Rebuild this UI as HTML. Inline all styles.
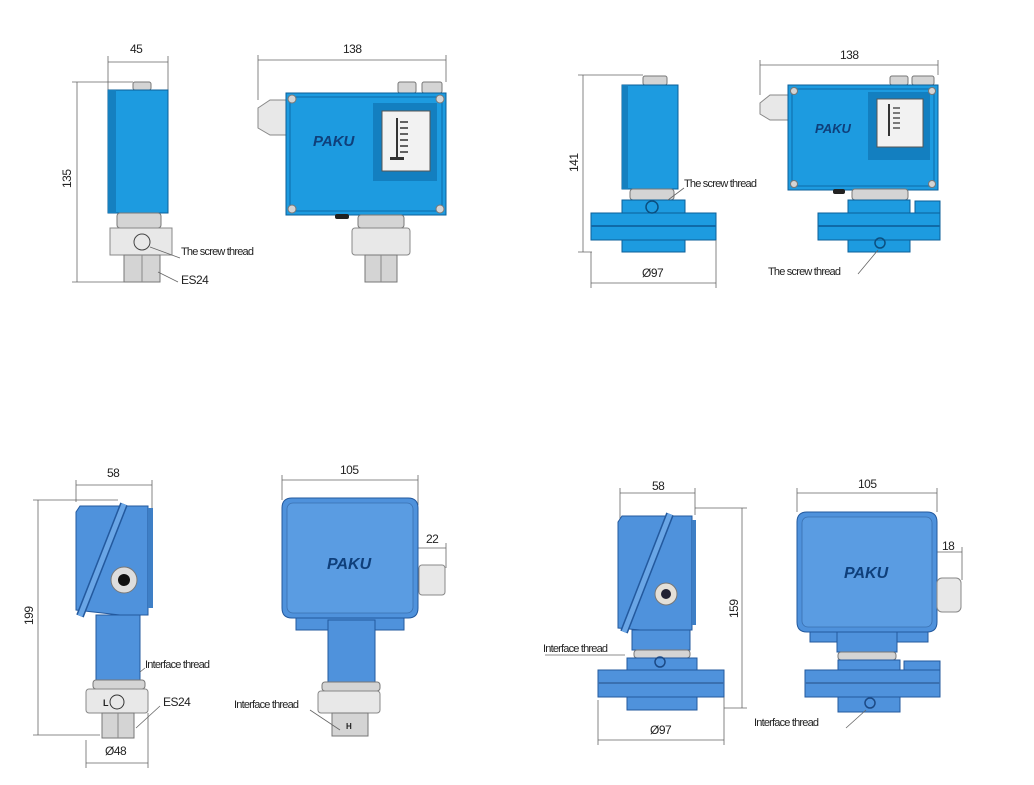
<!DOCTYPE html>
<html><head><meta charset="utf-8"><style>
html,body{margin:0;padding:0;background:#fff;width:1034px;height:785px;overflow:hidden}
svg{display:block}
text{font-family:"Liberation Sans",sans-serif;fill:#222}
.lbl{font-size:11px;letter-spacing:-0.8px}
.dim{font-size:12px;letter-spacing:-0.5px}
.d{stroke:#666;stroke-width:0.8;fill:none}
.b{fill:#1d9be0;stroke:#0b5f99;stroke-width:1}
.b2{fill:#4f92dc;stroke:#23599e;stroke-width:1}
.g{fill:#d4d4d4;stroke:#777;stroke-width:1}
.g2{fill:#e8e8e8;stroke:#888;stroke-width:1}
.pk{font-size:15px;font-weight:bold;font-style:italic;fill:#0f3f7a}
</style></head><body>
<svg width="1034" height="785" viewBox="0 0 1034 785">
<!-- ===== TOP LEFT SIDE ===== -->
<path class="d" d="M108 62H168M108 56V90M168 56V90"/>
<text class="dim" x="130" y="53">45</text>
<path class="d" d="M77 82V282M72 82H133M72 282H125"/>
<text class="dim" x="0" y="0" transform="translate(71,188) rotate(-90)">135</text>
<rect class="g" x="133" y="82" width="18" height="8" rx="2"/>
<rect class="b" x="108" y="90" width="60" height="123"/>
<rect x="108" y="90" width="8" height="123" fill="#1580c0"/>
<rect class="g" x="117" y="213" width="44" height="15" rx="3"/>
<rect class="g2" x="110" y="228" width="62" height="27"/>
<circle cx="142" cy="242" r="8" fill="none" stroke="#444"/>
<rect class="g" x="124" y="255" width="36" height="27"/>
<path d="M142 255V282" stroke="#888"/>
<path class="d" d="M150 247L180 258M158 272L178 282"/>
<text class="lbl" x="181" y="255">The screw thread</text>
<text class="dim" x="181" y="284">ES24</text>
<!-- ===== TOP FRONT ===== -->
<path class="d" d="M258 60H446M258 55V100M446 55V82"/>
<text class="dim" x="343" y="53">138</text>
<rect class="g" x="398" y="82" width="18" height="11" rx="2"/>
<rect class="g" x="422" y="82" width="20" height="11" rx="2"/>
<path class="g2" d="M258 108L270 100H286V135H270L258 128Z"/>
<rect class="b" x="286" y="93" width="160" height="122"/>
<rect x="290" y="97" width="152" height="114" fill="none" stroke="#0b5f99" stroke-width="0.8"/>
<rect x="373" y="103" width="64" height="78" fill="#137fc0"/>
<rect x="382" y="111" width="48" height="60" fill="#f2f2f2" stroke="#555"/>
<path d="M397 118V160" stroke="#333" stroke-width="2"/>
<path d="M400 122h8M400 128h8M400 134h8M400 140h8M400 146h8M400 152h8" stroke="#333" stroke-width="1.5"/>
<rect x="390" y="157" width="14" height="3" fill="#333"/>
<circle cx="292" cy="99" r="4" class="g"/><circle cx="440" cy="99" r="4" class="g"/>
<circle cx="292" cy="209" r="4" class="g"/><circle cx="440" cy="209" r="4" class="g"/>
<text class="pk" x="313" y="146">PAKU</text>
<rect x="335" y="214" width="14" height="5" fill="#222" rx="2"/>
<rect class="g" x="358" y="215" width="46" height="13" rx="3"/>
<rect class="g2" x="352" y="228" width="58" height="27" rx="3"/>
<rect class="g" x="365" y="255" width="32" height="27"/>
<path d="M381 255V282" stroke="#888"/>
<!-- ===== TOP RIGHT SIDE ===== -->
<path class="d" d="M583 75V252M578 75H643M578 252H592"/>
<text class="dim" x="0" y="0" transform="translate(578,172) rotate(-90)">141</text>
<rect class="g" x="643" y="76" width="24" height="9" rx="2"/>
<rect class="b" x="622" y="85" width="56" height="104"/>
<rect x="622" y="85" width="6" height="104" fill="#1580c0"/>
<rect class="g" x="630" y="189" width="44" height="11" rx="3"/>
<rect class="b" x="622" y="200" width="63" height="52"/>
<rect class="b" x="591" y="213" width="125" height="27"/>
<rect x="591" y="225" width="125" height="2" fill="#0f6aa8"/>
<circle cx="652" cy="207" r="6" fill="none" stroke="#0b4f80" stroke-width="1.5"/>
<path class="d" d="M591 252V288M716 240V288M591 283H716"/>
<text class="dim" x="642" y="277">Ø97</text>
<path class="d" d="M668 200L684 188"/>
<text class="lbl" x="684" y="187">The screw thread</text>
<!-- ===== TOP RIGHT FRONT ===== -->
<path class="d" d="M760 65H938M760 60V95M938 60V75"/>
<text class="dim" x="840" y="59">138</text>
<rect class="g" x="890" y="76" width="18" height="9" rx="2"/>
<rect class="g" x="912" y="76" width="22" height="9" rx="2"/>
<path class="g2" d="M760 103L770 95H788V120H770L760 114Z"/>
<rect class="b" x="788" y="85" width="150" height="105"/>
<rect x="792" y="89" width="142" height="97" fill="none" stroke="#0b5f99" stroke-width="0.8"/>
<rect x="868" y="92" width="62" height="68" fill="#137fc0"/>
<rect x="877" y="99" width="46" height="48" fill="#f2f2f2" stroke="#555"/>
<path d="M889 104V136" stroke="#333" stroke-width="2"/>
<path d="M893 108h7M893 113h7M893 118h7M893 123h7M893 128h7" stroke="#333" stroke-width="1.3"/>
<circle cx="794" cy="91" r="3.5" class="g"/><circle cx="932" cy="91" r="3.5" class="g"/>
<circle cx="794" cy="184" r="3.5" class="g"/><circle cx="932" cy="184" r="3.5" class="g"/>
<text class="pk" x="815" y="133" style="font-size:13px">PAKU</text>
<rect x="833" y="189" width="12" height="5" fill="#222" rx="2"/>
<rect class="g" x="852" y="189" width="56" height="11" rx="3"/>
<rect class="b" x="848" y="200" width="62" height="52"/>
<rect class="b" x="915" y="201" width="25" height="14"/>
<rect class="b" x="818" y="213" width="122" height="27"/>
<rect x="818" y="225" width="122" height="2" fill="#0f6aa8"/>
<circle cx="880" cy="243" r="5" fill="none" stroke="#0b4f80" stroke-width="1.5"/>
<path class="d" d="M878 250L858 274"/>
<text class="lbl" x="768" y="275">The screw thread</text>
<!-- ===== BOTTOM LEFT SIDE ===== -->
<path class="d" d="M76 485H152M76 480V502M152 480V510"/>
<text class="dim" x="107" y="477">58</text>
<path class="d" d="M38 500V735M33 500H118M33 735H100"/>
<text class="dim" x="0" y="0" transform="translate(33,625) rotate(-90)">199</text>
<path class="b2" d="M80 506H148V615H120L76 610V512Z"/>
<rect x="148" y="508" width="5" height="100" fill="#3e7fc6"/>
<path d="M124 504L80 616" stroke="#23599e" stroke-width="8" fill="none"/>
<path d="M124 504L80 616" stroke="#6aa6e6" stroke-width="5" fill="none"/>
<circle cx="124" cy="580" r="13" fill="#ddd" stroke="#777"/>
<circle cx="124" cy="580" r="6" fill="#111"/>
<rect class="b2" x="96" y="615" width="44" height="66"/>
<rect class="g" x="93" y="680" width="52" height="9" rx="3"/>
<rect class="g2" x="86" y="689" width="62" height="24" rx="3"/>
<text x="103" y="706" style="font-size:9px;font-weight:bold">L</text>
<circle cx="117" cy="702" r="7" fill="none" stroke="#333"/>
<rect class="g" x="102" y="713" width="32" height="25"/>
<path d="M118 713V738" stroke="#888"/>
<path class="d" d="M140 672L145 668M136 728L160 706"/>
<text class="lbl" x="145" y="668">Interface thread</text>
<text class="dim" x="163" y="706">ES24</text>
<path class="d" d="M86 740V768M148 713V768M86 763H148"/>
<text class="dim" x="105" y="755">Ø48</text>
<!-- ===== BOTTOM LEFT FRONT ===== -->
<path class="d" d="M282 480H418M282 475V500M418 475V505"/>
<text class="dim" x="340" y="474">105</text>
<path class="d" d="M418 548H446M446 543V568"/>
<text class="dim" x="426" y="543">22</text>
<path class="b2" d="M292 498H408Q418 498 418 508V608Q418 618 408 618H292Q282 618 282 608V508Q282 498 292 498Z"/>
<rect x="287" y="503" width="126" height="110" rx="6" fill="#5a9ce2" stroke="#3a70b0" stroke-width="0.8"/>
<text class="pk" x="327" y="569" style="font-size:16px">PAKU</text>
<path class="b2" d="M296 618H404V630H296Z"/>
<rect class="g2" x="419" y="565" width="26" height="30" rx="3"/>
<rect class="b2" x="328" y="620" width="47" height="63"/>
<rect class="g" x="322" y="682" width="58" height="9" rx="3"/>
<rect class="g2" x="318" y="691" width="62" height="22" rx="3"/>
<rect class="g" x="332" y="713" width="36" height="23"/>
<text x="346" y="729" style="font-size:8px;font-weight:bold">H</text>
<path class="d" d="M310 710L340 730"/>
<text class="lbl" x="234" y="708">Interface thread</text>
<!-- ===== BOTTOM RIGHT SIDE ===== -->
<path class="d" d="M620 493H695M620 488V520M695 488V515"/>
<text class="dim" x="652" y="490">58</text>
<path class="d" d="M742 508V708M695 508H747M724 708H747"/>
<text class="dim" x="0" y="0" transform="translate(738,618) rotate(-90)">159</text>
<path class="b2" d="M622 516H692V630H640L618 628V522Z"/>
<rect x="692" y="520" width="4" height="105" fill="#3e7fc6"/>
<path d="M670 514L624 632" stroke="#23599e" stroke-width="8" fill="none"/>
<path d="M670 514L624 632" stroke="#6aa6e6" stroke-width="5" fill="none"/>
<circle cx="666" cy="594" r="11" fill="#e4e0d8" stroke="#777"/>
<circle cx="666" cy="594" r="5" fill="#223"/>
<rect class="b2" x="632" y="630" width="58" height="20"/>
<rect class="g" x="634" y="650" width="56" height="8" rx="3"/>
<rect class="b2" x="627" y="658" width="70" height="52"/>
<rect class="b2" x="598" y="670" width="126" height="27"/>
<rect x="598" y="682" width="126" height="2" fill="#3a70b0"/>
<circle cx="660" cy="662" r="5" fill="none" stroke="#1c4a86" stroke-width="1.5"/>
<path class="d" d="M598 700V745M724 697V745M598 740H724"/>
<text class="dim" x="650" y="734">Ø97</text>
<path class="d" d="M545 655H625"/>
<text class="lbl" x="543" y="652">Interface thread</text>
<!-- ===== BOTTOM RIGHT FRONT ===== -->
<path class="d" d="M797 493H937M797 488V512M937 488V512"/>
<text class="dim" x="858" y="488">105</text>
<path class="d" d="M937 552H962M962 547V580"/>
<text class="dim" x="942" y="550">18</text>
<path class="b2" d="M807 512H927Q937 512 937 522V622Q937 632 927 632H807Q797 632 797 622V522Q797 512 807 512Z"/>
<rect x="802" y="517" width="130" height="110" rx="6" fill="#5a9ce2" stroke="#3a70b0" stroke-width="0.8"/>
<text class="pk" x="844" y="578" style="font-size:16px">PAKU</text>
<path class="b2" d="M810 632H928V642H810Z"/>
<rect class="g2" x="937" y="578" width="24" height="34" rx="5"/>
<rect class="b2" x="837" y="632" width="60" height="20"/>
<rect class="g" x="838" y="652" width="58" height="8" rx="3"/>
<rect class="b2" x="838" y="660" width="62" height="52"/>
<rect class="b2" x="904" y="661" width="36" height="12"/>
<rect class="b2" x="805" y="670" width="135" height="27"/>
<rect x="805" y="682" width="135" height="2" fill="#3a70b0"/>
<circle cx="870" cy="703" r="5" fill="none" stroke="#1c4a86" stroke-width="1.5"/>
<path class="d" d="M866 710L846 728"/>
<text class="lbl" x="754" y="726">Interface thread</text>
</svg>
</body></html>
